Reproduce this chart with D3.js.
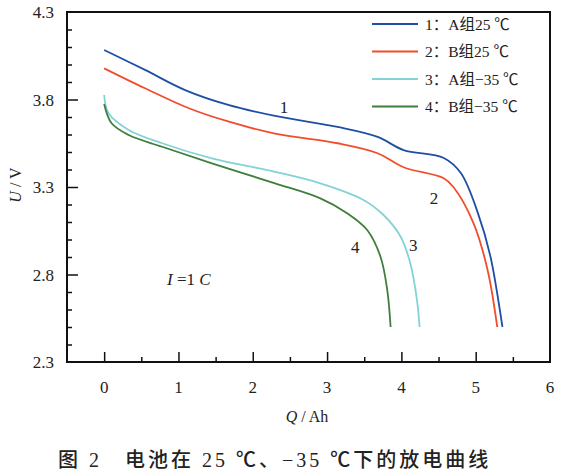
<!DOCTYPE html>
<html>
<head>
<meta charset="utf-8">
<script src="https://cdn.jsdelivr.net/npm/d3@7"></script>
<style>
  body { margin: 0; background: #fff; }
  text { font-family: "Liberation Serif", "Noto Sans CJK SC", serif; fill: #222; }
</style>
</head>
<body>
<div id="chart"></div>
<script>
// discharge curves, Q (Ah) vs U (V)
const q1 = [0, 0.55, 1.09, 1.67, 2.3, 3.14, 3.68, 4.03, 4.57, 4.8, 5.03, 5.2, 5.36];
const u1 = [4.083, 3.969, 3.854, 3.769, 3.706, 3.643, 3.586, 3.511, 3.466, 3.38, 3.151, 2.9, 2.5];
const q2 = [0, 0.55, 1.14, 1.68, 2.3, 3.14, 3.68, 4.03, 4.57, 4.7, 4.97, 5.16, 5.29];
const u2 = [3.978, 3.864, 3.75, 3.673, 3.605, 3.55, 3.493, 3.413, 3.35, 3.3, 3.094, 2.826, 2.5];
const q3 = [0, 0.06, 0.33, 0.78, 1.45, 2.3, 2.91, 3.49, 3.76, 3.99, 4.12, 4.21, 4.245];
const u3 = [3.826, 3.721, 3.626, 3.55, 3.464, 3.387, 3.321, 3.226, 3.14, 3.016, 2.864, 2.654, 2.5];
const q4 = [0, 0.1, 0.33, 0.78, 1.45, 2.3, 2.91, 3.27, 3.54, 3.72, 3.81, 3.855];
const u4 = [3.774, 3.664, 3.597, 3.53, 3.435, 3.321, 3.235, 3.15, 3.054, 2.9, 2.711, 2.5];

const seriesNames = ["1：A组25 ℃", "2：B组25 ℃", "3：A组−35 ℃", "4：B组−35 ℃"];
const colors = ["#1f4fa5", "#f24d2b", "#84d3d4", "#3f7f3b"];
const curveLabels = ["1", "2", "3", "4"];
const labelQ = [2.42, 4.44, 4.16, 3.38];
const labelU = [3.76, 3.24, 2.97, 2.96];

const xTicks = [0, 1, 2, 3, 4, 5, 6];
const yTicks = [2.3, 2.8, 3.3, 3.8, 4.3];

const width = 568, height = 475;
const margin = {top: 12, right: 18, bottom: 113, left: 67};

const svg = d3.select("#chart").append("svg")
    .attr("width", width)
    .attr("height", height);

const x = d3.scaleLinear().domain([-0.5, 6]).range([margin.left, width - margin.right]);
const y = d3.scaleLinear().domain([2.3, 4.3]).range([height - margin.bottom, margin.top]);

// frame
svg.append("rect")
    .attr("x", x(-0.5)).attr("y", y(4.3))
    .attr("width", x(6) - x(-0.5)).attr("height", y(2.3) - y(4.3))
    .attr("fill", "none").attr("stroke", "#111").attr("stroke-width", 2);

// inward ticks on bottom
const xMinor = d3.range(0, 6, 0.5).filter(v => v % 1 !== 0);
svg.append("g")
    .attr("transform", `translate(0,${y(2.3)})`)
    .call(d3.axisBottom(x).tickValues(xTicks.slice(0, -1)).tickSize(-10).tickFormat(""))
    .call(g => g.select(".domain").remove())
    .call(g => g.selectAll("line").attr("stroke", "#111").attr("stroke-width", 1.5));
svg.append("g")
    .attr("transform", `translate(0,${y(2.3)})`)
    .call(d3.axisBottom(x).tickValues(xMinor).tickSize(-5).tickFormat(""))
    .call(g => g.select(".domain").remove())
    .call(g => g.selectAll("line").attr("stroke", "#111").attr("stroke-width", 1.5));

// inward ticks on left
const yMinor = d3.range(23, 43).map(v => v / 10).filter(v => !yTicks.some(t => Math.abs(t - v) < 1e-6));
svg.append("g")
    .attr("transform", `translate(${x(-0.5)},0)`)
    .call(d3.axisLeft(y).tickValues(yTicks.slice(1, -1)).tickSize(-11).tickFormat(""))
    .call(g => g.select(".domain").remove())
    .call(g => g.selectAll("line").attr("stroke", "#111").attr("stroke-width", 1.5));
svg.append("g")
    .attr("transform", `translate(${x(-0.5)},0)`)
    .call(d3.axisLeft(y).tickValues(yMinor).tickSize(-5).tickFormat(""))
    .call(g => g.select(".domain").remove())
    .call(g => g.selectAll("line").attr("stroke", "#111").attr("stroke-width", 1.5));

// tick labels
svg.selectAll(".xlab").data(xTicks).enter().append("text")
    .attr("x", d => x(d)).attr("y", 393)
    .attr("text-anchor", "middle").attr("font-size", 17)
    .text(d => d);
svg.selectAll(".ylab").data(yTicks).enter().append("text")
    .attr("x", 54).attr("y", d => y(d) + 6)
    .attr("text-anchor", "end").attr("font-size", 17)
    .text(d => d.toFixed(1));

// curves
const line = d3.line().x(d => x(d[0])).y(d => y(d[1])).curve(d3.curveCatmullRom.alpha(0.5));
const series = [[q1, u1], [q2, u2], [q3, u3], [q4, u4]];
series.forEach((s, i) => {
    const pts = s[0].map((q, j) => [q, s[1][j]]);
    svg.append("path")
        .datum(pts)
        .attr("d", line)
        .attr("fill", "none")
        .attr("stroke", colors[i])
        .attr("stroke-width", 1.8);
});

// curve number labels
svg.selectAll(".clab").data(curveLabels).enter().append("text")
    .attr("x", (d, i) => x(labelQ[i])).attr("y", (d, i) => y(labelU[i]) + 6)
    .attr("text-anchor", "middle").attr("font-size", 17)
    .text(d => d);

// legend
const legend = svg.append("g");
seriesNames.forEach((name, i) => {
    const ly = 24 + i * 27.5;
    legend.append("line")
        .attr("x1", 372).attr("x2", 418).attr("y1", ly).attr("y2", ly)
        .attr("stroke", colors[i]).attr("stroke-width", 1.8);
    legend.append("text")
        .attr("x", 425).attr("y", ly + 5.5)
        .attr("font-size", 15.5)
        .text(name);
});

// I = 1 C
const note = svg.append("text").attr("x", 167).attr("y", 285).attr("font-size", 17);
note.append("tspan").attr("font-style", "italic").text("I");
note.append("tspan").text(" =1 ");
note.append("tspan").attr("font-style", "italic").text("C");

// axis titles
const xt = svg.append("text").attr("x", 307).attr("y", 422)
    .attr("text-anchor", "middle").attr("font-size", 16);
xt.append("tspan").attr("font-style", "italic").text("Q");
xt.append("tspan").text(" / Ah");

const yt = svg.append("text")
    .attr("transform", "translate(21,185) rotate(-90)")
    .attr("text-anchor", "middle").attr("font-size", 16);
yt.append("tspan").attr("font-style", "italic").text("U");
yt.append("tspan").text(" / V");

// caption
svg.append("text")
    .attr("x", 58).attr("y", 467)
    .attr("font-size", 20)
    .attr("letter-spacing", 3)
    .attr("font-weight", 500)
    .attr("fill", "#111")
    .text("图 2　电池在 25 ℃、−35 ℃下的放电曲线");
</script>
</body>
</html>
